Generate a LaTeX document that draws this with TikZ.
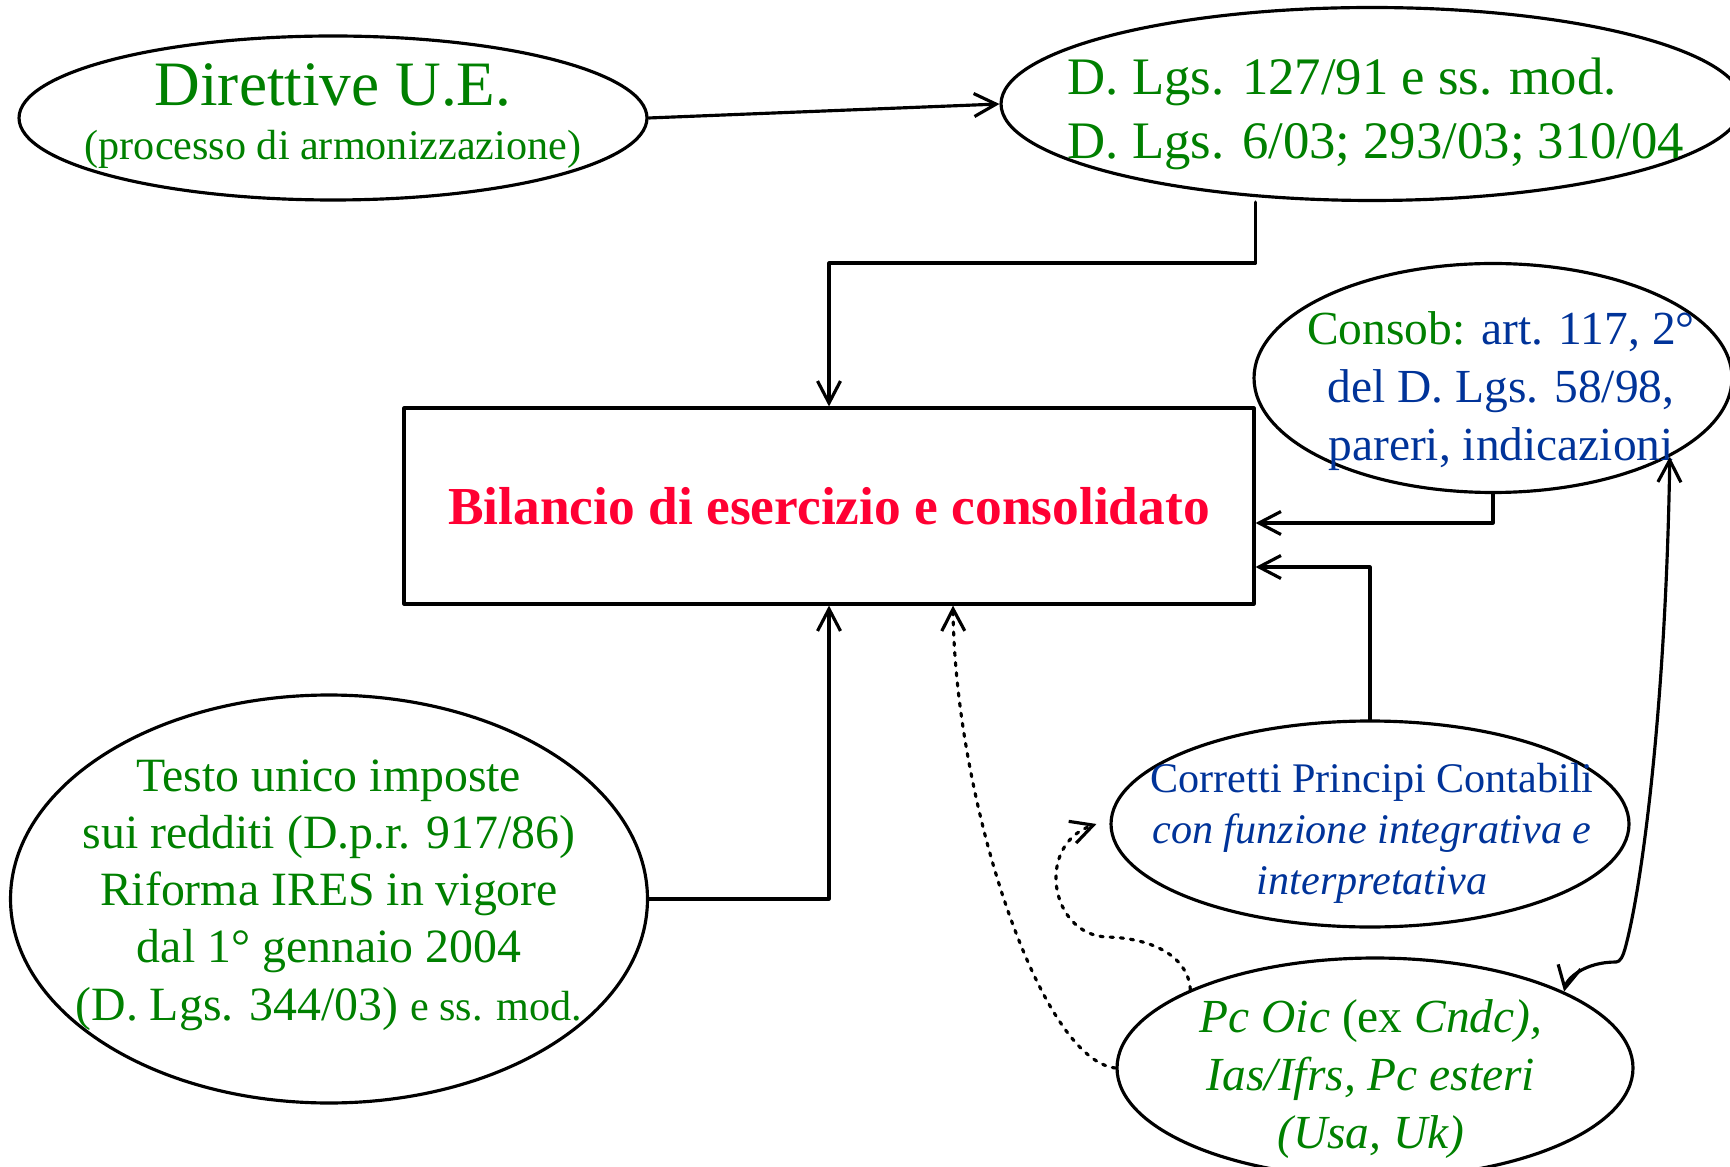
\documentclass[tikz,border=0pt]{standalone}
\usepackage{fontspec}
\setmainfont{Liberation Serif}
\usepackage{pgf,tikz}
\usetikzlibrary{arrows.meta}
\usetikzlibrary{shapes.geometric}
\definecolor{verdetxt}{RGB}{0,128,0}
\definecolor{blutxt}{RGB}{0,51,153}
\definecolor{rossotxt}{RGB}{255,0,51}

\begin{document}
\begin{tikzpicture}[line cap=round,line join=round,>={Straight Barb[length=2.2mm,width=2.3mm]},x=0.1cm,y=-0.1cm,
  ell/.style={ellipse,draw,line width=0.9pt,inner sep=0pt},
  txt/.style={inner sep=0pt,align=center},
  conn/.style={->,line width=0.9pt},
  hint/.style={->,line width=0.9pt,dotted}]
\clip(0,0) rectangle (173,116.7);
\node[ell,minimum width=6.28cm,minimum height=1.64cm] (dir) at (33.3,11.8) {};
\node[ell,minimum width=7.42cm,minimum height=1.93cm] (dlgs) at (137.2,10.4) {};
\node[draw,line width=0.9pt,minimum width=8.5cm,minimum height=1.96cm,text=rossotxt,font=\fontsize{15.2}{18}\selectfont\bfseries] (bil) at (82.9,50.6) {Bilancio di esercizio e consolidato};
\node[ell,minimum width=4.78cm,minimum height=2.29cm] (consob) at (149.3,37.8) {};
\node[ell,minimum width=6.37cm,minimum height=4.08cm] (testo) at (32.9,89.9) {};
\node[ell,minimum width=5.18cm,minimum height=2.06cm] (corr) at (137,82.4) {};
\node[ell,minimum width=5.16cm,minimum height=2.2cm] (pcoic) at (137.5,106.8) {};
\node[txt,text=verdetxt,font=\fontsize{12}{15.3}\selectfont] (dirT) at (33.3,11.6) {{\fontsize{18}{18}\selectfont Direttive U.E.}\\(processo di armonizzazione)};
\node[txt,align=left,text=verdetxt,font=\fontsize{15}{18.1}\selectfont] (dlgsT) at (137.6,11.4) {D. Lgs. 127/91 e ss. mod.\\D. Lgs. 6/03; 293/03; 310/04};
\node[txt,text=blutxt,font=\fontsize{13.5}{16.4}\selectfont] (consobT) at (150.1,39.1) {{\color{verdetxt}Consob:} art. 117, 2°\\del D. Lgs. 58/98,\\pareri, indicazioni};
\node[txt,text=verdetxt,font=\fontsize{13.6}{16.3}\selectfont] (testoT) at (32.9,89.5) {Testo unico imposte\\sui redditi (D.p.r. 917/86)\\Riforma IRES in vigore\\dal 1° gennaio 2004\\(D. Lgs. 344/03) {\fontsize{12}{14}\selectfont e ss. mod.}};
\node[txt,text=blutxt,font=\fontsize{12}{14.5}\selectfont] (corrT) at (137.2,83.3) {Corretti Principi Contabili\\\textit{con funzione integrativa e}\\\textit{interpretativa}};
\node[txt,text=verdetxt,font=\fontsize{13.5}{16.4}\selectfont] (pcoicT) at (137.1,107.9) {\textit{Pc Oic} (ex \textit{Cndc),}\\\textit{Ias/Ifrs, Pc esteri}\\\textit{(Usa, Uk)}};
\coordinate (kneeA) at (82.9,26.3);
\draw[conn] (dir.east) -- (dlgs.west);
\draw[conn] (dlgs.south -| bil.east) |- (kneeA) -- (bil.north);
\draw[conn] (consob.south) |- ([yshift=-1.7mm]bil.east);
\draw[conn] (corr.north) |- ([yshift=-6.1mm]bil.east);
\draw[conn] (testo.east) -| (bil.south);
\draw[hint] (pcoic.west) .. controls (104,106) and (95.5,80) .. ([xshift=12.4mm]bil.south);
\draw[hint] (pcoic.157) .. controls (118.8,95.5) and (115,93.8) .. (110.7,93.7) .. controls (105,93.5) and (103.5,84.5) .. ([xshift=-1.3mm]corr.west);
\draw[<->,line width=0.9pt] (consob.-24) .. controls (166.6,70) and (164.3,88) .. (162.6,94.5) .. controls (162.3,95.7) and (162,96.2) .. (161.6,96.2) .. controls (158.5,96.2) and (156.7,97.8) .. (pcoic.22);
\end{tikzpicture}
\end{document}
